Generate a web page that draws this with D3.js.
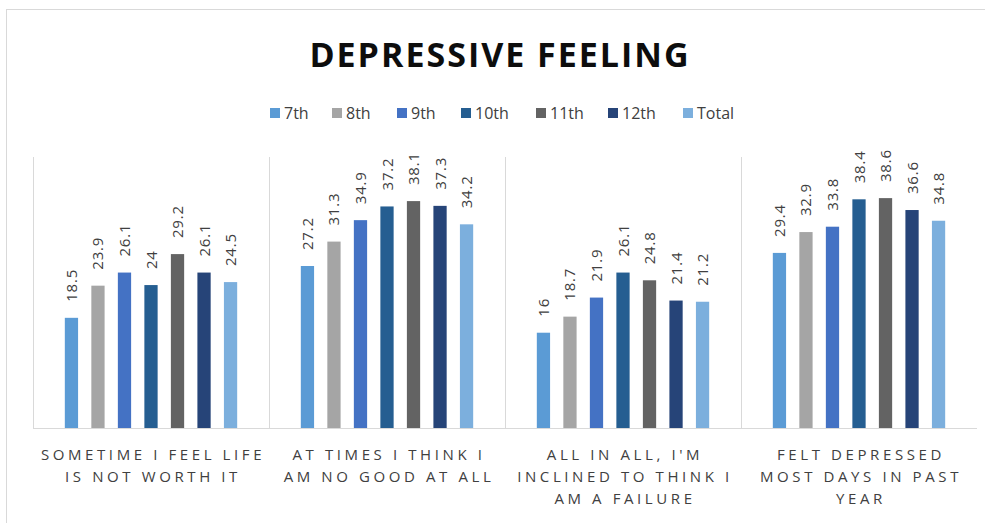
<!DOCTYPE html>
<html>
<head>
<meta charset="utf-8">
<script src="https://cdn.jsdelivr.net/npm/d3@7"></script>
<style>
  body { margin: 0; background: #fff; }
  text { font-family: "Open Sans", sans-serif; }
</style>
</head>
<body>
<div id="viz-container"></div>
<script>
let vizWidth = 985;
let vizHeight = 523;

// dataset
let categories = ["c1", "c2", "c3", "c4"];
let categoryLines = [
    ["SOMETIME I FEEL LIFE", "IS NOT WORTH IT"],
    ["AT TIMES I THINK I", "AM NO GOOD AT ALL"],
    ["ALL IN ALL, I'M", "INCLINED TO THINK I", "AM A FAILURE"],
    ["FELT DEPRESSED", "MOST DAYS IN PAST", "YEAR"]
];
let seriesNames = ["7th", "8th", "9th", "10th", "11th", "12th", "Total"];
let seriesColors = ["#5B9BD5", "#A5A5A5", "#4472C4", "#255E91", "#636363", "#264478", "#7CAFDD"];
let values7th   = [18.5, 27.2, 16,   29.4];
let values8th   = [23.9, 31.3, 18.7, 32.9];
let values9th   = [26.1, 34.9, 21.9, 33.8];
let values10th  = [24,   37.2, 26.1, 38.4];
let values11th  = [29.2, 38.1, 24.8, 38.6];
let values12th  = [26.1, 37.3, 21.4, 36.6];
let valuesTotal = [24.5, 34.2, 21.2, 34.8];
let seriesValues = [values7th, values8th, values9th, values10th, values11th, values12th, valuesTotal];

let viz = d3.select("#viz-container")
    .append("svg")
        .attr("width", vizWidth)
        .attr("height", vizHeight)
        .style("display", "block")
;

// outer chart border
viz.append("rect")
    .attr("x", 6.5).attr("y", 9.5)
    .attr("width", vizWidth).attr("height", vizHeight)
    .attr("fill", "none")
    .attr("stroke", "#d9d9d9")
;

// title
viz.append("text")
    .attr("x", 500).attr("y", 67)
    .attr("text-anchor", "middle")
    .attr("font-size", 34)
    .attr("font-weight", "bold")
    .attr("letter-spacing", 2)
    .attr("fill", "#0d0d0d")
    .text("DEPRESSIVE FEELING")
;

// legend
let legendX = [270, 332, 397, 461, 536, 608, 683];
let legend = viz.selectAll(".legend").data(seriesNames).enter().append("g")
    .attr("class", "legend")
    .attr("transform", (d, i) => "translate(" + legendX[i] + ",113)")
;
legend.append("rect")
    .attr("x", 0).attr("y", -5)
    .attr("width", 10).attr("height", 10)
    .attr("fill", (d, i) => seriesColors[i])
;
legend.append("text")
    .attr("x", 14).attr("y", 5.5)
    .attr("font-size", 16)
    .attr("fill", "#404040")
    .text(d => d)
;

// scales
let plotLeft = 33, plotRight = 977, plotTop = 160, plotBottom = 428;
let x0 = d3.scaleBand().domain(categories).range([plotLeft, plotRight]);
let x1 = d3.scaleBand().domain(seriesNames).range([0, x0.bandwidth()])
    .paddingInner(0.5).paddingOuter(1.2);
let y = d3.scaleLinear().domain([0, 45]).range([plotBottom, plotTop]);

// separators between categories
let seps = [plotLeft].concat(categories.slice(1).map(c => x0(c)));
viz.selectAll(".sep").data(seps).enter().append("line")
    .attr("class", "sep")
    .attr("x1", d => d + 0.5).attr("x2", d => d + 0.5)
    .attr("y1", 157).attr("y2", plotBottom)
    .attr("stroke", "#d9d9d9")
;

// bars
let groups = viz.selectAll(".datagroup").data(categories).enter().append("g")
    .attr("class", "datagroup")
    .attr("transform", d => "translate(" + x0(d) + ",0)")
;
groups.each(function(c, ci) {
    let g = d3.select(this);
    let rows = seriesNames.map((s, si) => ({ s: s, si: si, v: seriesValues[si][ci] }));
    g.selectAll("rect").data(rows).enter().append("rect")
        .attr("x", d => x1(d.s))
        .attr("y", d => y(d.v))
        .attr("width", x1.bandwidth())
        .attr("height", d => plotBottom - y(d.v))
        .attr("fill", d => seriesColors[d.si])
    ;
    g.selectAll(".val").data(rows).enter().append("text")
        .attr("class", "val")
        .attr("transform", d => "translate(" + (x1(d.s) + x1.bandwidth() / 2 + 5.5) + "," + (y(d.v) - 16) + ") rotate(-90)")
        .attr("font-size", 15)
        .attr("letter-spacing", 0.8)
        .attr("fill", "#404040")
        .text(d => d.v)
    ;
});

// baseline
viz.append("line")
    .attr("x1", plotLeft).attr("x2", plotRight)
    .attr("y1", plotBottom + 0.5).attr("y2", plotBottom + 0.5)
    .attr("stroke", "#d9d9d9")
;

// category labels
categories.forEach(function(c, ci) {
    let t = viz.append("text")
        .attr("text-anchor", "middle")
        .attr("font-size", 15)
        .attr("letter-spacing", 3.6)
        .attr("fill", "#404040")
    ;
    categoryLines[ci].forEach(function(line, li) {
        t.append("tspan")
            .attr("x", x0(c) + x0.bandwidth() / 2 + 2)
            .attr("y", 460 + li * 22)
            .text(line)
        ;
    });
});
</script>
</body>
</html>
